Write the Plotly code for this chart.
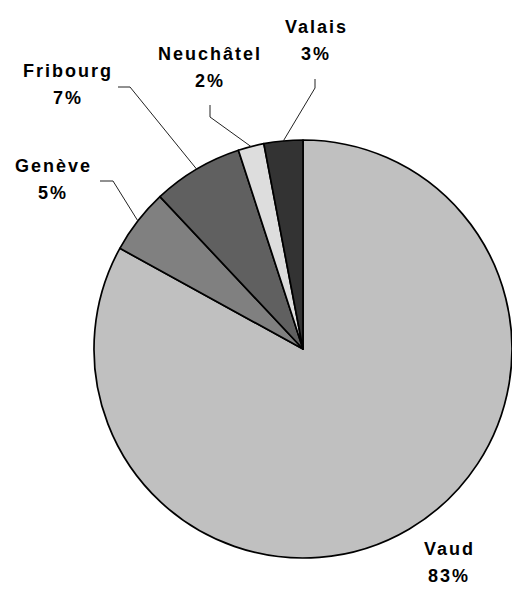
import math
import plotly.graph_objects as go

# ---- data ----
labels = ["Vaud", "Genève", "Fribourg", "Neuchâtel", "Valais"]
values = [83, 5, 7, 2, 3]
colors = ["#c0c0c0", "#808080", "#606060", "#dddddd", "#333333"]

# ---- layout (pixels) ----
W, H = 512, 589
CX, CY, R = 303, 349, 209
name_pos = {"Vaud": (449, 549), "Genève": (53, 166), "Fribourg": (68, 71),
            "Neuchâtel": (210, 54), "Valais": (316, 27)}
pct_dy = 27
elbows = {"Genève": [(100, 181), (113, 181)], "Fribourg": [(118, 87), (130, 87)],
          "Neuchâtel": [(210, 105), (210, 117)], "Valais": [(315, 79), (315, 88)]}


def px(x):
    return x / W


def py(y):
    return 1 - y / H


fig = go.Figure(go.Pie(
    labels=labels, values=values, sort=False, direction="clockwise", rotation=0,
    marker=dict(colors=colors, line=dict(color="black", width=1.7)),
    textinfo="none", hoverinfo="label+percent", showlegend=False,
    domain=dict(x=[px(CX - R), px(CX + R)], y=[py(CY + R), py(CY - R)]),
))

font = dict(family="Liberation Sans, Arial, sans-serif", size=18, color="black")
total = sum(values)
cum = 0
shapes = []
annotations = []
for lab, v in zip(labels, values):
    mid = (cum + v / 2) / total * 2 * math.pi
    cum += v
    nx, ny = name_pos[lab]
    pct = f"{round(v / total * 100)}%"
    for txt, yy in ((lab, ny), (pct, ny + pct_dy)):
        annotations.append(dict(
            text=f"<span style='letter-spacing:2px'><b>{txt}</b></span>",
            x=px(nx), y=py(yy), xref="paper", yref="paper",
            xanchor="center", yanchor="middle", showarrow=False, font=font))
    if lab in elbows:
        ex = CX + R * math.sin(mid)
        ey = CY - R * math.cos(mid)
        pts = elbows[lab] + [(ex, ey)]
        path = "M " + " L ".join(f"{px(a)},{py(b)}" for a, b in pts)
        shapes.append(dict(type="path", path=path, xref="paper", yref="paper",
                           line=dict(color="#222222", width=1)))

fig.update_layout(
    width=W, height=H, margin=dict(l=0, r=0, t=0, b=0),
    paper_bgcolor="white", plot_bgcolor="white",
    shapes=shapes, annotations=annotations,
)
fig.write_html("out.html", config={"displayModeBar": False},
               post_script="document.body.style.margin='0';")
